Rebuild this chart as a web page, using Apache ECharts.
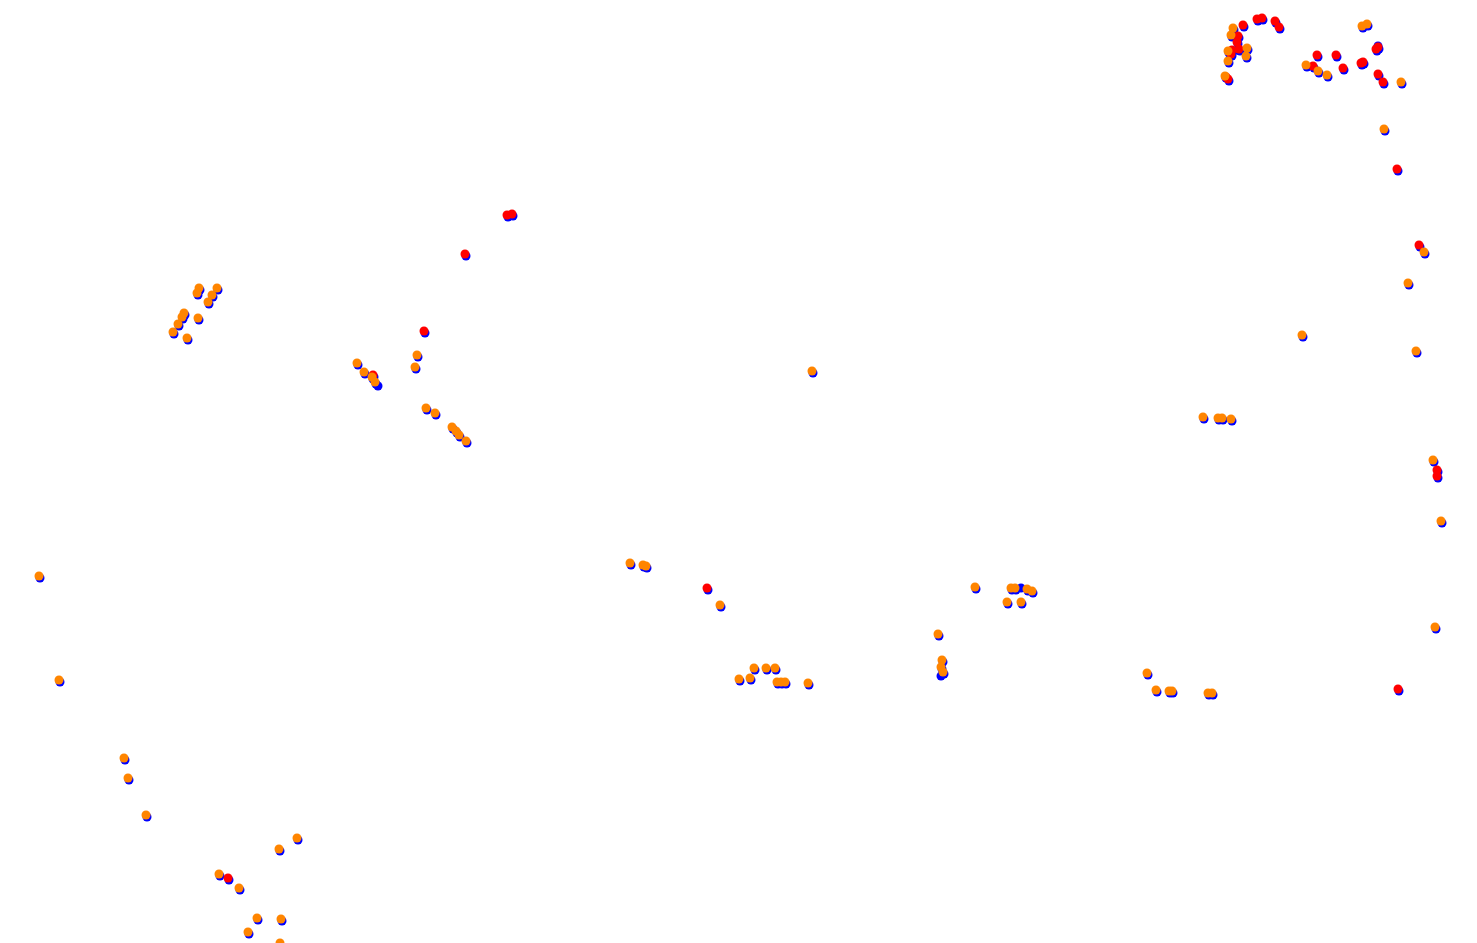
<!DOCTYPE html>
<html>
<head>
<meta charset="utf-8">
<script src="https://cdn.jsdelivr.net/npm/echarts@6/dist/echarts.min.js"></script>
<style>html,body{margin:0;padding:0;background:#fff;}#chart{width:1477px;height:943px;}</style>
</head>
<body>
<div id="chart"></div>
<script>
const bluePoints = [
[1244,27],[1239,38],[1238,44],[1233,52],[1240,51],[1232,56],[1229,81],[1258,21],[1263,20],[1276,23],[1280,29],[1318,57],[1337,57],[1314,68],[1344,70],[1362,65],[1364,64],[1377,51],[1379,49],[1379,76],[1384,84],[1398,171],[1420,247],[1438,472],[1438,478],[1399,691],[708,590],[374,377],[508,217],[513,216],[466,256],[425,333],[229,880],
[1234,30],[1232,37],[1229,53],[1248,50],[1247,58],[1229,63],[1226,78],[1363,28],[1368,26],[1307,67],[1319,73],[1328,77],[1402,84],[1385,131],[1425,254],[1409,285],[1303,337],[1417,353],[1434,462],[1442,523],[1436,629],[1204,419],[1219,420],[1223,420],[1232,421],[1148,675],[1157,692],[1170,693],[1173,693],[1209,695],[1213,695],[813,373],[976,589],[1012,590],[1016,590],[1028,591],[1033,593],[1008,604],[1022,604],[939,636],[943,662],[942,669],[944,674],[740,681],[751,680],[755,670],[767,670],[776,670],[778,684],[782,684],[786,684],[809,685],[631,565],[644,567],[647,568],[721,607],[358,365],[365,374],[373,379],[376,384],[418,357],[416,369],[427,410],[436,415],[453,429],[457,433],[460,437],[467,443],[200,290],[198,295],[218,290],[213,297],[209,304],[185,315],[183,319],[179,326],[174,334],[199,320],[188,340],[40,578],[60,682],[125,760],[129,780],[147,817],[298,840],[280,851],[220,876],[240,890],[258,920],[282,921],[249,934],[281,945],
[1021,588],[378,386],[941,676],[1378,46]
];
const redPoints = [
[1243,25],[1238,36],[1237,42],[1232,50],[1239,49],[1231,54],[1228,79],[1257,19],[1262,18],[1275,21],[1279,27],[1317,55],[1336,55],[1313,66],[1343,68],[1361,63],[1363,62],[1376,49],[1378,47],[1378,74],[1383,82],[1397,169],[1419,245],[1437,470],[1437,476],[1398,689],[707,588],[373,375],[507,215],[512,214],[465,254],[424,331],[228,878],[1226,77]
];
const orangePoints = [
[1233,28],[1231,35],[1228,51],[1247,48],[1246,56],[1228,61],[1225,76],[1362,26],[1367,24],[1306,65],[1318,71],[1327,75],[1401,82],[1384,129],[1424,252],[1408,283],[1302,335],[1416,351],[1433,460],[1441,521],[1435,627],[1203,417],[1218,418],[1222,418],[1231,419],[1147,673],[1156,690],[1169,691],[1172,691],[1208,693],[1212,693],[812,371],[975,587],[1011,588],[1015,588],[1027,589],[1032,591],[1007,602],[1021,602],[938,634],[942,660],[941,667],[943,672],[739,679],[750,678],[754,668],[766,668],[775,668],[777,682],[781,682],[785,682],[808,683],[630,563],[643,565],[646,566],[720,605],[357,363],[364,372],[372,377],[375,382],[417,355],[415,367],[426,408],[435,413],[452,427],[456,431],[459,435],[466,441],[199,288],[197,293],[217,288],[212,295],[208,302],[184,313],[182,317],[178,324],[173,332],[198,318],[187,338],[39,576],[59,680],[124,758],[128,778],[146,815],[297,838],[279,849],[219,874],[239,888],[257,918],[281,919],[248,932],[280,943]
];
const chart = echarts.init(document.getElementById('chart'));
chart.setOption({
  animation: false,
  backgroundColor: '#ffffff',
  grid: {left: 0, right: 0, top: 0, bottom: 0, containLabel: false},
  xAxis: {type: 'value', min: 0, max: 1477, show: false},
  yAxis: {type: 'value', min: 0, max: 943, inverse: true, show: false},
  series: [
    {type: 'scatter', data: bluePoints, symbolSize: 9, itemStyle: {color: '#0000ff', opacity: 1}, clip: true},
    {type: 'scatter', data: redPoints, symbolSize: 9, itemStyle: {color: '#ff0000', opacity: 1}, clip: true},
    {type: 'scatter', data: orangePoints, symbolSize: 9, itemStyle: {color: '#ff8500', opacity: 1}, clip: true}
  ]
});
</script>
</body>
</html>
